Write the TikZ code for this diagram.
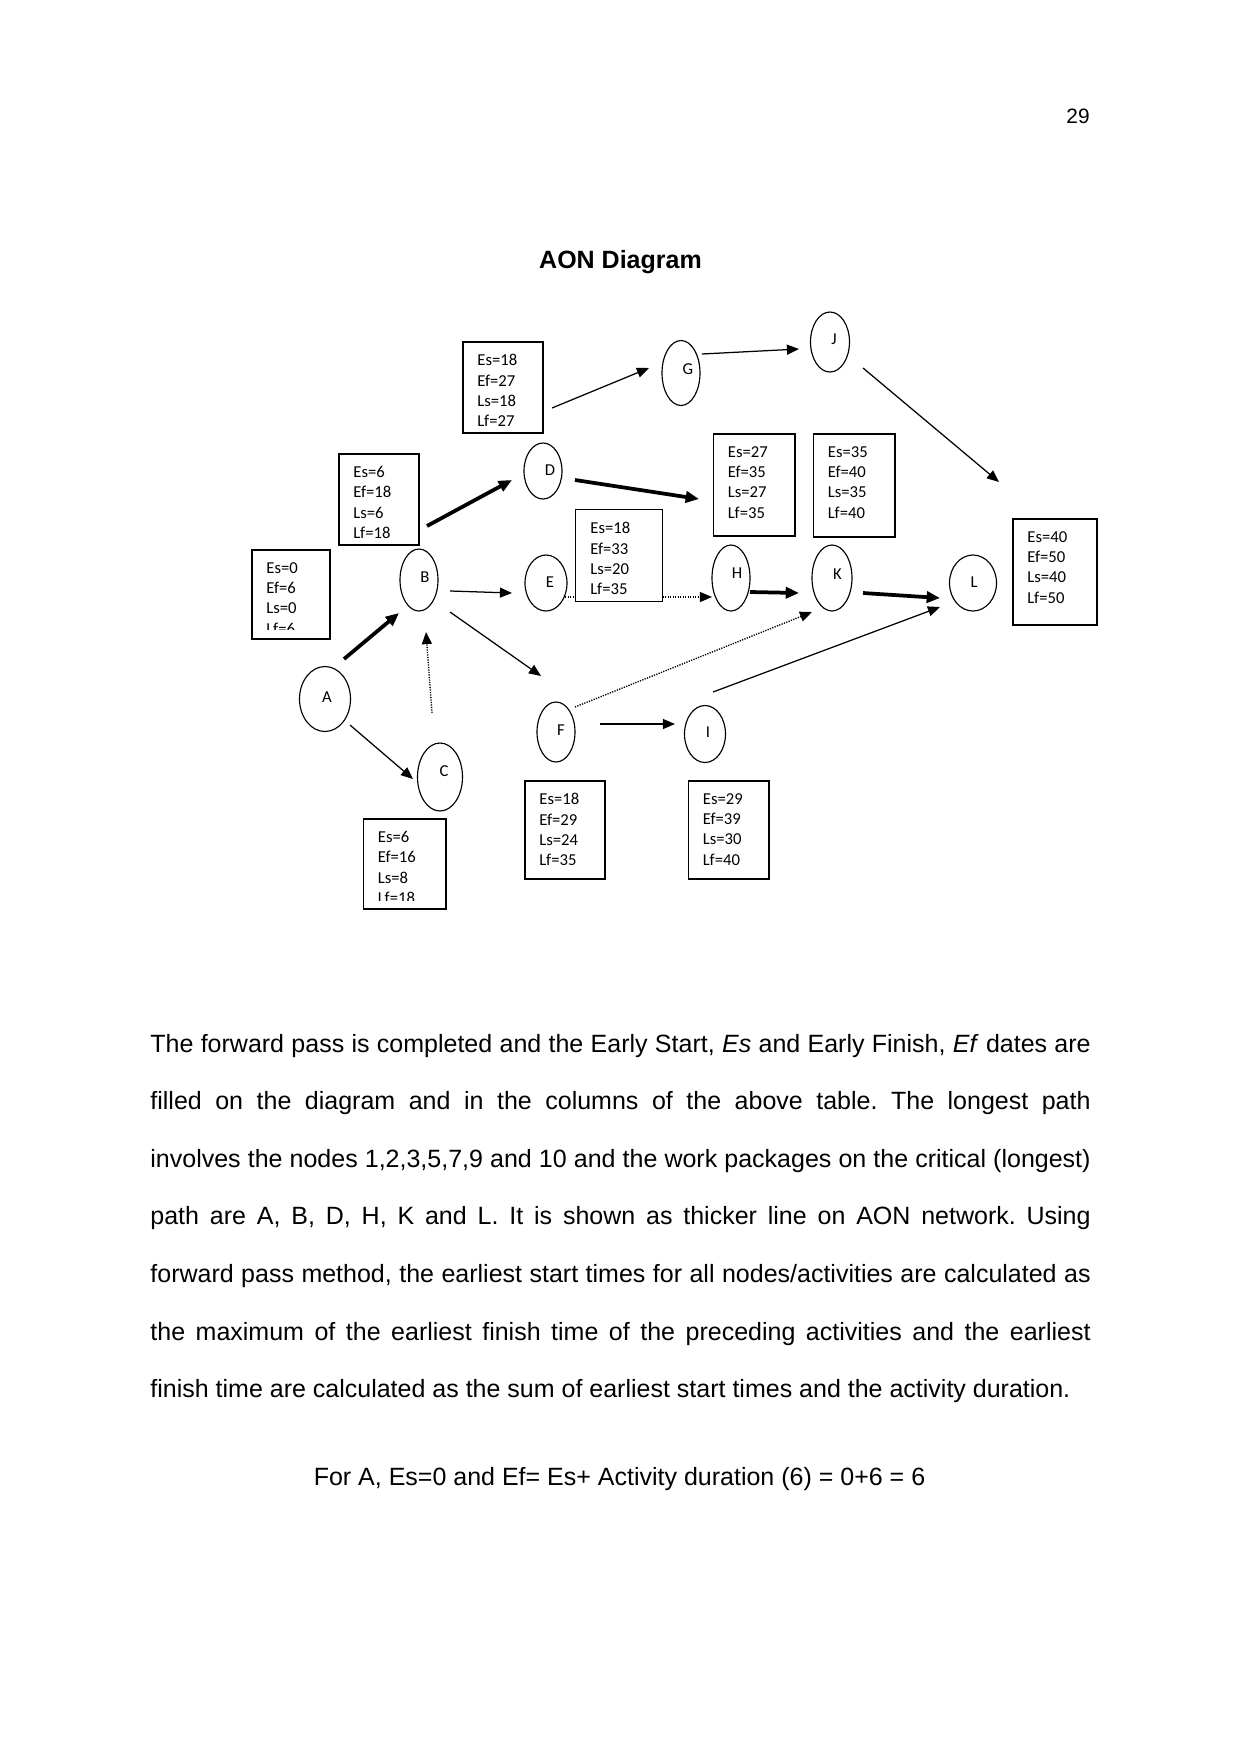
\documentclass[tikz,border=0pt]{standalone}
\usepackage{fontspec}
\setmainfont{Liberation Sans}
\newfontfamily\calib{Carlito}
\usetikzlibrary{arrows.meta,shapes.geometric}
\newlength\pxu
\setlength\pxu{0.48pt}
\frenchspacing
\tikzset{
  actnode/.style={draw, ellipse, line width=0.55pt, fill=white, inner sep=0pt},
  infobox/.style={draw, line width=0.8pt, fill=white, inner sep=0pt, anchor=north west},
  boxtext/.style={font=\calib\fontsize{8pt}{9.75pt}\selectfont, align=left, inner sep=0pt, anchor=north west},
  letter/.style={font=\calib\fontsize{8pt}{9.75pt}\selectfont, inner sep=0pt},
  thinarrow/.style={line width=0.6pt, -{Triangle[length=5.8pt,width=4.8pt]}},
  thickarrow/.style={line width=1.8pt, -{Triangle[length=6.4pt,width=5.4pt]}},
  dotarrow/.style={line width=0.65pt, dash pattern=on 0.6pt off 0.6pt, -{Triangle[length=5.8pt,width=4.8pt]}},
}
\begin{document}
\begin{tikzpicture}[x=0.48pt, y=-0.48pt]
\useasboundingbox (0,0) rectangle (1241,1754);

% page number and title
\node[font=\fontsize{10pt}{12pt}\selectfont, anchor=base east, inner sep=0pt] (pagenum) at (1090,123) {29};
\node[font=\bfseries\fontsize{12pt}{14pt}\selectfont, anchor=base, inner sep=0pt] (title) at (620.5,268) {AON Diagram};

% activity nodes (ellipses)
\node[actnode, minimum width=51\pxu, minimum height=65\pxu] (A) at (325,699) {};
\node[actnode, minimum width=38\pxu, minimum height=62\pxu] (B) at (419,580) {};
\node[actnode, minimum width=45\pxu, minimum height=68\pxu] (C) at (440,777) {};
\node[actnode, minimum width=38\pxu, minimum height=56\pxu] (D) at (543,471) {};
\node[actnode, minimum width=42\pxu, minimum height=56\pxu] (E) at (546,583) {};
\node[actnode, minimum width=38\pxu, minimum height=60\pxu] (F) at (556,732) {};
\node[actnode, minimum width=38\pxu, minimum height=65\pxu] (G) at (681,373) {};
\node[actnode, minimum width=38\pxu, minimum height=66\pxu] (H) at (731,578) {};
\node[actnode, minimum width=41\pxu, minimum height=57\pxu] (I) at (705,734) {};
\node[actnode, minimum width=39\pxu, minimum height=60\pxu] (J) at (830,342) {};
\node[actnode, minimum width=40\pxu, minimum height=66\pxu] (K) at (832,578) {};
\node[actnode, minimum width=47\pxu, minimum height=56\pxu] (L) at (973,583) {};

\node[letter] (lA) at (327,697) {A};
\node[letter] (lB) at (425,577) {B};
\node[letter] (lC) at (444,771) {C};
\node[letter] (lD) at (550,470) {D};
\node[letter] (lE) at (550,582) {E};
\node[letter] (lF) at (561,730) {F};
\node[letter] (lG) at (688,369) {G};
\node[letter] (lH) at (737,573) {H};
\node[letter] (lI) at (708,732) {I};
\node[letter] (lJ) at (834,339) {J};
\node[letter] (lK) at (837.5,574) {K};
\node[letter] (lL) at (974,582) {L};

% connector end points
\coordinate (ab1) at (344,659);  \coordinate (ab2) at (399,613);
\coordinate (ac1) at (350,725);  \coordinate (ac2) at (413,779);
\coordinate (cb1) at (432,713);  \coordinate (cb2) at (426,632);
\coordinate (bd1) at (427,526);  \coordinate (bd2) at (512,480);
\coordinate (be1) at (450,591);  \coordinate (be2) at (512,593);
\coordinate (bf1) at (450,612);  \coordinate (bf2) at (541,676);
\coordinate (dg1) at (552,408);  \coordinate (dg2) at (649,368);
\coordinate (dh1) at (575,480);  \coordinate (dh2) at (699,499);
\coordinate (eh1) at (565,597);  \coordinate (eh2) at (712,597);
\coordinate (gj1) at (702,354);  \coordinate (gj2) at (799,349);
\coordinate (jl1) at (863,368);  \coordinate (jl2) at (999,482);
\coordinate (hk1) at (750,592);  \coordinate (hk2) at (799,593);
\coordinate (kl1) at (863,593);  \coordinate (kl2) at (940,598);
\coordinate (fi1) at (600,724);  \coordinate (fi2) at (675,724);
\coordinate (fk1) at (575,707);  \coordinate (fk2) at (812,612);
\coordinate (il1) at (713,692);  \coordinate (il2) at (940,607);

% connectors
\draw[thickarrow] (ab1) -- (ab2);
\draw[thinarrow]  (ac1) -- (ac2);
\draw[dotarrow]   (cb1) -- (cb2);
\draw[thickarrow] (bd1) -- (bd2);
\draw[thinarrow]  (be1) -- (be2);
\draw[thinarrow]  (bf1) -- (bf2);
\draw[thinarrow]  (dg1) -- (dg2);
\draw[thickarrow] (dh1) -- (dh2);
\draw[dotarrow]   (eh1) -- (eh2);
\draw[thinarrow]  (gj1) -- (gj2);
\draw[thinarrow]  (jl1) -- (jl2);
\draw[thickarrow] (hk1) -- (hk2);
\draw[thickarrow] (kl1) -- (kl2);
\draw[thinarrow]  (fi1) -- (fi2);
\draw[dotarrow]   (fk1) -- (fk2);
\draw[thinarrow]  (il1) -- (il2);

% info boxes
\node[infobox, minimum width=78\pxu, minimum height=89\pxu] (Ainfo) at (251,549) {};
\begin{scope}
  \clip (251,549) rectangle (329,629);
  \node[boxtext] (Atext) at (266,562) {Es=0\\Ef=6\\Ls=0\\Lf=6};
\end{scope}
\node[infobox, minimum width=80\pxu, minimum height=91\pxu] (Binfo) at (338,453) {};
\node[boxtext] (Btext) at (353,466) {Es=6\\Ef=18\\Ls=6\\Lf=18};
\node[infobox, minimum width=82.5\pxu, minimum height=90\pxu] (Cinfo) at (362.5,818) {};
\begin{scope}
  \clip (362.5,818) rectangle (445,900);
  \node[boxtext] (Ctext) at (377.5,831) {Es=6\\Ef=16\\Ls=8\\Lf=18};
\end{scope}
\node[infobox, minimum width=80\pxu, minimum height=91\pxu] (Dinfo) at (462,341) {};
\node[boxtext] (Dtext) at (477,354) {Es=18\\Ef=27\\Ls=18\\Lf=27};
\node[infobox, minimum width=87\pxu, minimum height=92\pxu, line width=0.6pt] (Einfo) at (575,509) {};
\node[boxtext] (Etext) at (590,522) {Es=18\\Ef=33\\Ls=20\\Lf=35};
\node[infobox, minimum width=80\pxu, minimum height=98\pxu] (Finfo) at (524,780) {};
\node[boxtext] (Ftext) at (539,793) {Es=18\\Ef=29\\Ls=24\\Lf=35};
\node[infobox, minimum width=81.5\pxu, minimum height=102\pxu] (Hinfo) at (712.5,433) {};
\node[boxtext] (Htext) at (727.5,446) {Es=27\\Ef=35\\Ls=27\\Lf=35};
\node[infobox, minimum width=80.5\pxu, minimum height=98\pxu] (Iinfo) at (687.5,780) {};
\node[boxtext] (Itext) at (702.5,793) {Es=29\\Ef=39\\Ls=30\\Lf=40};
\node[infobox, minimum width=81.5\pxu, minimum height=103\pxu] (Kinfo) at (812.5,433) {};
\node[boxtext] (Ktext) at (827.5,446) {Es=35\\Ef=40\\Ls=35\\Lf=40};
\node[infobox, minimum width=84\pxu, minimum height=106\pxu] (Linfo) at (1012,518) {};
\node[boxtext] (Ltext) at (1027,531) {Es=40\\Ef=50\\Ls=40\\Lf=50};

% body text
\node[anchor=base west, text width=451.3pt, align=justify, inner sep=0pt,
      font=\fontsize{12pt}{27.67pt}\selectfont] (body) at (150,1052)
{\hyphenpenalty=10000 The forward pass is completed and the Early Start, \textit{Es} and Early Finish, \textit{Ef} dates are\linebreak
filled on the diagram and in the columns of the above table. The longest path\linebreak
involves the nodes 1,2,3,5,7,9 and 10 and the work packages on the critical (longest)\linebreak
path are A, B, D, H, K and L. It is shown as thicker line on AON network. Using\linebreak
forward pass method, the earliest start times for all nodes/activities are calculated as\linebreak
the maximum of the earliest finish time of the preceding activities and the earliest\linebreak
finish time are calculated as the sum of earliest start times and the activity duration.};

\node[anchor=base, inner sep=0pt, font=\fontsize{12pt}{14pt}\selectfont] (formula) at (619.5,1485)
{For A, Es=0 and Ef= Es+ Activity duration (6) = 0+6 = 6};
\end{tikzpicture}
\end{document}
